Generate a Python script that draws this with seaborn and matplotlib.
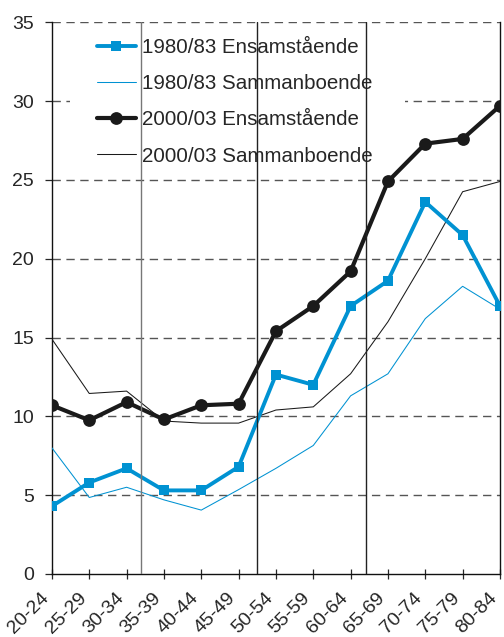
import numpy as np
import pandas as pd
import matplotlib
matplotlib.use("Agg")
import matplotlib.pyplot as plt
import matplotlib.transforms as mtransforms
from matplotlib.patches import Rectangle
import seaborn as sns

# Age groups on the x axis
age_groups = ["20-24", "25-29", "30-34", "35-39", "40-44", "45-49", "50-54",
              "55-59", "60-64", "65-69", "70-74", "75-79", "80-84"]

# Values
ens_1980 = [4.3, 5.8, 6.7, 5.3, 5.3, 6.8, 12.65, 12.0, 17.0, 18.6, 23.6, 21.5, 17.0]
sam_1980 = [8.0, 4.85, 5.5, 4.7, 4.05, 5.35, 6.7, 8.15, 11.3, 12.7, 16.2, 18.25, 16.8]
ens_2000 = [10.7, 9.75, 10.9, 9.8, 10.7, 10.8, 15.4, 17.0, 19.2, 24.9, 27.3, 27.6, 29.7]
sam_2000 = [14.9, 11.45, 11.6, 9.7, 9.57, 9.57, 10.4, 10.6, 12.7, 16.0, 20.0, 24.25, 24.9]

labels = ["1980/83 Ensamstående", "1980/83 Sammanboende",
          "2000/03 Ensamstående", "2000/03 Sammanboende"]

blue = "#0092d2"
black = "#1a1a1a"

sns.set_style("white")
plt.rcParams["font.family"] = ["Liberation Sans", "DejaVu Sans"]

fig = plt.figure(figsize=(5.04, 6.37), dpi=100)
ax = fig.add_axes([0.103, 0.099, 0.889, 0.866])

pos = np.arange(len(age_groups))
df = pd.DataFrame({"pos": pos, "e80": ens_1980, "s80": sam_1980,
                   "e00": ens_2000, "s00": sam_2000})

sns.lineplot(data=df, x="pos", y="e80", ax=ax, color=blue, linewidth=2.8,
             marker="s", markersize=6.5, markeredgewidth=0, label=labels[0], zorder=4)
sns.lineplot(data=df, x="pos", y="s80", ax=ax, color=blue, linewidth=0.75,
             label=labels[1], zorder=3)
sns.lineplot(data=df, x="pos", y="e00", ax=ax, color=black, linewidth=3.0,
             marker="o", markersize=9.2, markeredgewidth=0, label=labels[2], zorder=4)
sns.lineplot(data=df, x="pos", y="s00", ax=ax, color=black, linewidth=0.75,
             label=labels[3], zorder=3)

# dashed horizontal gridlines
for yv in range(5, 40, 5):
    ax.axhline(yv, color="#555555", linewidth=1.0, dashes=(6, 4), zorder=1)

# white area behind the legend hides the gridline at 30
ax.add_patch(Rectangle((0.04, 0.728), 0.748, 0.257, transform=ax.transAxes,
                       facecolor="white", edgecolor="none", zorder=1.5))

# vertical separators
ax.axvline(2.38, color="#777777", linewidth=1.0, zorder=6)
ax.axvline(5.5, color="#222222", linewidth=1.0, zorder=6)
ax.axvline(8.4, color="#222222", linewidth=1.0, zorder=6)

ax.set_xlim(0, len(age_groups) - 1)
ax.set_ylim(0, 35)
ax.set_yticks(range(0, 40, 5))
ax.set_xticks(pos)
ax.set_xticklabels(age_groups, rotation=45, ha="right", va="center",
                   rotation_mode="anchor", fontsize=14)
ax.tick_params(axis="y", labelsize=14, length=5, width=0.9, direction="out",
               left=True, pad=8)
ax.tick_params(axis="x", length=7, width=0.9, direction="inout", bottom=True, pad=12)
offset = mtransforms.ScaledTranslation(-4 / 72, 0, fig.dpi_scale_trans)
for lab in ax.get_xticklabels():
    lab.set_transform(lab.get_transform() + offset)
ax.set_xlabel("")
ax.set_ylabel("")

for side in ["left", "bottom", "right"]:
    ax.spines[side].set_color("#111111")
    ax.spines[side].set_linewidth(1.0)
ax.spines["top"].set_visible(False)

ax.legend(loc="upper left", bbox_to_anchor=(0.1004, 0.972), frameon=False,
          fontsize=14.8, handlelength=1.9, handletextpad=0.3,
          labelspacing=0.84, borderpad=0, borderaxespad=0)

plt.savefig("out.png", dpi=100)
